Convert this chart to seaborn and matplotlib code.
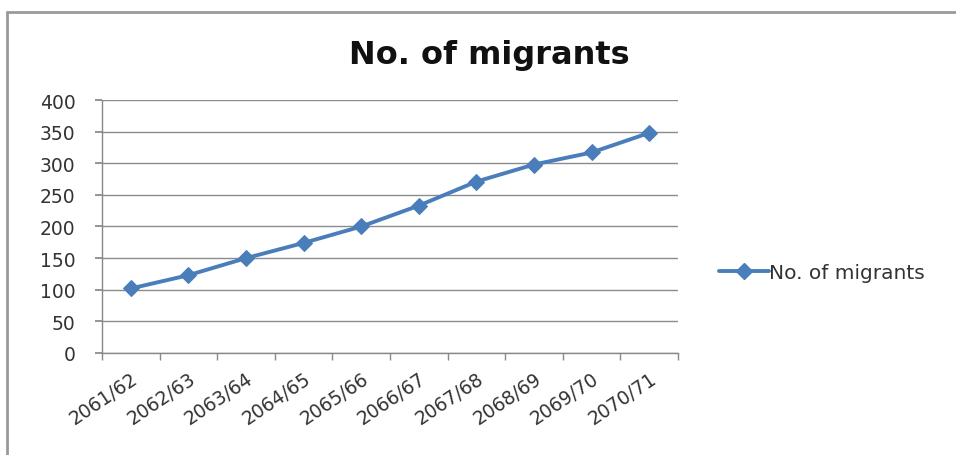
import matplotlib
matplotlib.use("Agg")
import matplotlib.pyplot as plt
import seaborn as sns
import pandas as pd
from matplotlib.lines import Line2D

years = ["2061/62", "2062/63", "2063/64", "2064/65", "2065/66",
         "2066/67", "2067/68", "2068/69", "2069/70", "2070/71"]
migrants = [102, 123, 150, 174, 200, 233, 271, 298, 317, 348]
series_name = "No. of migrants"
y_ticks = [0, 50, 100, 150, 200, 250, 300, 350, 400]

sns.set_theme(style="white")
plt.rcParams["font.family"] = ["DejaVu Sans"]

df = pd.DataFrame({"year": years, "value": migrants})

fig = plt.figure(figsize=(9.56, 4.56), dpi=100)
ax = fig.add_axes([0.1067, 0.2237, 0.6025, 0.5548])

color = "#4A7EBB"
sns.lineplot(data=df, x="year", y="value", ax=ax, color=color, lw=2.8,
             marker="D", markersize=8.5, markeredgecolor=color, legend=False)

ax.set_xlim(-0.5, len(years) - 0.5)
ax.set_ylim(0, 400)
ax.set_yticks(y_ticks)
ax.set_xticks(range(len(years)))
ax.set_xticklabels(years, rotation=34, ha="right", rotation_mode="anchor")
ax.set_xticks([i - 0.5 for i in range(len(years) + 1)], minor=True)
ax.tick_params(axis="x", which="major", length=0, pad=11, labelsize=13.5, labelcolor="#333333")
ax.tick_params(axis="x", which="minor", length=5, color="#888888", width=1, direction="out", bottom=True)
ax.tick_params(axis="y", length=5, color="#888888", direction="out", left=True,
               labelsize=13.5, labelcolor="#333333", pad=14)
ax.grid(axis="y", color="#8C8C8C", lw=1)
ax.set_axisbelow(True)
for s in ["top", "right"]:
    ax.spines[s].set_visible(False)
for s in ["left", "bottom"]:
    ax.spines[s].set_color("#888888")
    ax.spines[s].set_linewidth(1)
ax.set_xlabel("")
ax.set_ylabel("")

fig.text(0.512, 0.878, "No. of migrants", ha="center", va="center",
         fontsize=23, fontweight="bold", color="#111111")

handle = Line2D([0], [0], color=color, lw=2.8, marker="D", markersize=8.5)
fig.legend([handle], [series_name], loc="center left", bbox_to_anchor=(0.733, 0.4),
           frameon=False, fontsize=14.5, handlelength=2.5, handletextpad=0.0,
           labelcolor="#333333")

# chart frame (top and left edges visible in the reference)
fig.add_artist(Line2D([0.0075, 0.0075], [0.0, 0.971], transform=fig.transFigure,
                      color="#9A9A9A", lw=2))
fig.add_artist(Line2D([0.0075, 1.0], [0.971, 0.971], transform=fig.transFigure,
                      color="#9A9A9A", lw=2))

fig.savefig("out.png", dpi=100)
